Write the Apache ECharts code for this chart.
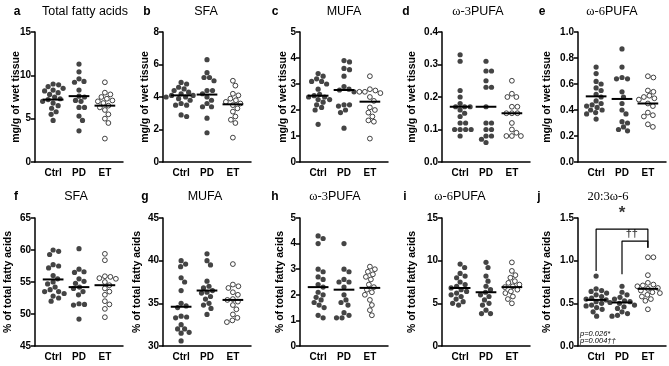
<!DOCTYPE html>
<html>
<head>
<meta charset="utf-8">
<script src="https://cdn.jsdelivr.net/npm/echarts@6/dist/echarts.min.js"></script>
<style>
  html, body { margin: 0; padding: 0; background: #fff; }
  #chart { width: 669px; height: 366px; }
</style>
</head>
<body>
<div id="chart"></div>
<script>
const cats = ['Ctrl', 'PD', 'ET'];

// a  Total fatty acids (mg/g of wet tissue)
const aCtrl = [9.0, 8.9, 8.7, 8.5, 8.3, 8.2, 8.0, 7.8, 7.5, 7.3, 7.2, 7.0, 6.8, 6.5, 6.2, 5.8, 5.5, 4.8];
const aPD = [11.3, 10.4, 9.6, 9.3, 9.2, 8.3, 7.6, 7.5, 7.1, 7.0, 6.3, 6.3, 5.3, 4.8, 3.6];
const aET = [9.2, 8.0, 7.8, 7.5, 7.3, 7.1, 7.0, 6.8, 6.5, 6.3, 6.0, 5.5, 5.0, 4.5, 2.7];
const aLine = [7.2, 7.6, 6.5];
const aTicks = ['0', '5', '10', '15'];

// b  SFA (mg/g)
const bCtrl = [4.9, 4.8, 4.6, 4.5, 4.4, 4.3, 4.2, 4.1, 4.1, 4.0, 4.0, 3.9, 3.8, 3.6, 3.5, 3.5, 2.9, 2.8];
const bPD = [6.3, 5.5, 5.2, 5.2, 5.0, 4.4, 4.4, 4.2, 4.0, 3.8, 3.6, 3.4, 3.4, 2.7, 1.8];
const bET = [5.0, 4.7, 4.2, 4.1, 3.9, 3.8, 3.7, 3.6, 3.5, 3.3, 3.1, 2.8, 2.6, 2.4, 1.5];
const bLine = [4.1, 4.15, 3.55];
const bTicks = ['0', '2', '4', '6', '8'];

// c  MUFA (mg/g)
const cCtrl = [3.4, 3.3, 3.2, 3.1, 3.1, 3.0, 2.8, 2.6, 2.55, 2.5, 2.5, 2.4, 2.4, 2.3, 2.2, 2.1, 2.0, 1.45];
const cPD = [3.9, 3.85, 3.6, 3.55, 3.3, 2.9, 2.8, 2.77, 2.7, 2.2, 2.2, 2.15, 2.0, 1.9, 1.3];
const cET = [3.3, 2.8, 2.75, 2.7, 2.7, 2.65, 2.5, 2.35, 2.1, 2.0, 1.9, 1.75, 1.6, 1.55, 0.9];
const cLine = [2.55, 2.77, 2.32];
const cTicks = ['0', '1', '2', '3', '4', '5'];

// d  w-3 PUFA (mg/g)
const dCtrl = [0.33, 0.31, 0.22, 0.20, 0.18, 0.17, 0.17, 0.17, 0.16, 0.15, 0.14, 0.12, 0.12, 0.10, 0.10, 0.10, 0.10, 0.08];
const dPD = [0.31, 0.28, 0.28, 0.25, 0.23, 0.23, 0.17, 0.12, 0.12, 0.10, 0.10, 0.08, 0.08, 0.07, 0.06];
const dET = [0.25, 0.21, 0.20, 0.20, 0.17, 0.17, 0.15, 0.15, 0.15, 0.12, 0.10, 0.09, 0.08, 0.08, 0.08];
const dLine = [0.17, 0.17, 0.15];
const dTicks = ['0.0', '0.1', '0.2', '0.3', '0.4'];

// e  w-6 PUFA (mg/g)
const eCtrl = [0.73, 0.68, 0.62, 0.60, 0.57, 0.55, 0.52, 0.50, 0.47, 0.45, 0.44, 0.43, 0.42, 0.40, 0.40, 0.38, 0.37, 0.33];
const ePD = [0.87, 0.73, 0.65, 0.64, 0.64, 0.54, 0.50, 0.45, 0.40, 0.37, 0.31, 0.30, 0.27, 0.25, 0.24];
const eET = [0.66, 0.65, 0.55, 0.54, 0.51, 0.50, 0.49, 0.48, 0.45, 0.43, 0.38, 0.36, 0.35, 0.29, 0.27];
const eLine = [0.505, 0.485, 0.45];
const eTicks = ['0.0', '0.2', '0.4', '0.6', '0.8', '1.0'];

// f  SFA (% of total fatty acids)
const fCtrl = [60.0, 59.8, 59.3, 57.7, 57.5, 57.2, 56.0, 55.5, 55.0, 54.7, 54.2, 53.8, 53.5, 53.5, 53.2, 52.8, 52.5, 52.0];
const fPD = [60.2, 57.0, 56.6, 56.5, 55.5, 55.1, 54.8, 54.2, 54.0, 53.5, 53.0, 51.6, 51.5, 51.4, 49.2];
const fET = [59.4, 58.4, 55.9, 55.8, 55.6, 55.5, 55.0, 54.5, 54.0, 53.5, 53.0, 52.0, 51.5, 50.8, 49.5];
const fLine = [55.4, 54.2, 54.5];
const fTicks = ['45', '50', '55', '60', '65'];

// g  MUFA (%)
const gCtrl = [40.0, 39.6, 39.3, 38.0, 37.5, 36.5, 35.0, 34.7, 34.5, 33.5, 33.4, 33.3, 32.5, 32.0, 32.0, 31.6, 31.5, 30.6];
const gPD = [40.8, 40.0, 39.5, 37.6, 37.0, 36.8, 36.5, 36.3, 36.2, 35.8, 35.5, 35.0, 34.8, 34.4, 33.7];
const gET = [39.6, 37.2, 37.0, 36.8, 36.3, 36.0, 35.5, 35.4, 35.2, 34.8, 34.3, 33.7, 33.3, 33.0, 32.8];
const gLine = [34.6, 36.5, 35.4];
const gTicks = ['30', '35', '40', '45'];

// h  w-3 PUFA (%)
const hCtrl = [4.3, 4.2, 4.0, 3.0, 2.9, 2.7, 2.6, 2.4, 2.3, 2.1, 2.0, 1.9, 1.8, 1.7, 1.6, 1.5, 1.2, 1.1];
const hPD = [4.0, 3.0, 2.9, 2.6, 2.5, 2.5, 2.3, 2.0, 1.8, 1.7, 1.6, 1.3, 1.2, 1.1, 1.1];
const hET = [3.1, 3.0, 2.9, 2.8, 2.7, 2.6, 2.4, 2.3, 2.2, 2.1, 2.0, 1.8, 1.6, 1.4, 1.2];
const hLine = [2.3, 2.2, 2.27];
const hTicks = ['0', '1', '2', '3', '4', '5'];

// i  w-6 PUFA (%)
const iCtrl = [9.6, 9.2, 8.5, 8.2, 8.0, 7.5, 7.2, 7.0, 6.8, 6.6, 6.4, 6.2, 6.0, 5.8, 5.5, 5.2, 5.0, 4.8];
const iPD = [9.8, 9.2, 8.2, 7.6, 7.0, 6.6, 6.3, 6.0, 5.8, 5.4, 5.0, 4.8, 4.2, 3.8, 3.8];
const iET = [9.8, 8.8, 8.3, 8.0, 7.6, 7.4, 7.2, 7.0, 6.9, 6.6, 6.4, 6.2, 5.8, 5.5, 5.0];
const iLine = [6.8, 6.3, 6.9];
const iTicks = ['0', '5', '10', '15'];

// j  20:3 w-6 (%)
const jCtrl = [0.82, 0.67, 0.65, 0.64, 0.62, 0.60, 0.58, 0.56, 0.55, 0.54, 0.52, 0.50, 0.48, 0.47, 0.45, 0.43, 0.40, 0.35];
const jPD = [0.70, 0.63, 0.60, 0.57, 0.55, 0.53, 0.52, 0.51, 0.50, 0.48, 0.46, 0.44, 0.40, 0.38, 0.36, 0.35];
const jET = [1.04, 1.04, 0.83, 0.74, 0.72, 0.71, 0.70, 0.68, 0.67, 0.65, 0.63, 0.62, 0.60, 0.58, 0.55, 0.53, 0.43];
const jLine = [0.54, 0.51, 0.67];
const jTicks = ['0.0', '0.5', '1.0', '1.5'];
const jPvalues = ['p=0.026*', 'p=0.004††'];

const unitMg = 'mg/g of wet tissue';
const unitPct = '% of total fatty acids';

const panels = [
  { letter: 'a', title: '{n|Total fatty acids}', unit: unitMg, groups: [aCtrl, aPD, aET], lines: aLine, ticks: aTicks },
  { letter: 'b', title: '{n|SFA}', unit: unitMg, groups: [bCtrl, bPD, bET], lines: bLine, ticks: bTicks },
  { letter: 'c', title: '{n|MUFA}', unit: unitMg, groups: [cCtrl, cPD, cET], lines: cLine, ticks: cTicks },
  { letter: 'd', title: '{s|ω-3}{n|PUFA}', unit: unitMg, groups: [dCtrl, dPD, dET], lines: dLine, ticks: dTicks },
  { letter: 'e', title: '{s|ω-6}{n|PUFA}', unit: unitMg, groups: [eCtrl, ePD, eET], lines: eLine, ticks: eTicks },
  { letter: 'f', title: '{n|SFA}', unit: unitPct, groups: [fCtrl, fPD, fET], lines: fLine, ticks: fTicks },
  { letter: 'g', title: '{n|MUFA}', unit: unitPct, groups: [gCtrl, gPD, gET], lines: gLine, ticks: gTicks },
  { letter: 'h', title: '{s|ω-3}{n|PUFA}', unit: unitPct, groups: [hCtrl, hPD, hET], lines: hLine, ticks: hTicks },
  { letter: 'i', title: '{s|ω-6}{n|PUFA}', unit: unitPct, groups: [iCtrl, iPD, iET], lines: iLine, ticks: iTicks },
  { letter: 'j', title: '{s|20:3ω-6}', unit: unitPct, groups: [jCtrl, jPD, jET], lines: jLine, ticks: jTicks }
];

// layout of the small multiples
const colLeft = [35, 163, 300, 442, 578];
const rowTop = [32, 218];
const rowHeight = [130, 128];
const plotWidth = 88;
const xMin = -0.7, xMax = 2.7;
const nameGaps = [13, 12, 11, 24, 25, 21, 20, 14, 24, 25];
const letterX = [17, 147, 275, 406, 542, 16, 145, 275, 405, 539];
const titleX = [85, 206, 344, 478, 612, 76, 205, 335, 460, 608];
const titleY = [12, 197];

const SANS = 'Liberation Sans';
const SERIF = 'Liberation Serif';
const DOT = 5.2;

// simple beeswarm: spread points sideways so they do not overlap (pixel units)
function swarm(values, pxPerY) {
  const D = 5.4;
  const order = values.map((v, k) => k).sort((p, q) => values[q] - values[p]);
  const placed = [];
  const offs = new Array(values.length).fill(0);
  order.forEach(k => {
    const py = values[k] * pxPerY;
    for (let n = 0; n < 400; n++) {
      const off = (n % 2 ? 1 : -1) * Math.ceil(n / 2) * 0.5;
      const ok = placed.every(p => (off - p.x) ** 2 + (py - p.y) ** 2 >= D * D);
      if (ok) {
        offs[k] = off;
        placed.push({ x: off, y: py });
        break;
      }
    }
  });
  return offs;
}

const axisLine = { color: '#000', width: 1.5 };
const grids = [], xAxes = [], yAxes = [], series = [], graphics = [];

panels.forEach((p, i) => {
  const row = i < 5 ? 0 : 1, col = i % 5;
  const h = rowHeight[row];
  const ticks = p.ticks.map(Number);
  const yMin = ticks[0], yMax = ticks[ticks.length - 1];

  grids.push({ left: colLeft[col], top: rowTop[row], width: plotWidth, height: h });

  xAxes.push({
    gridIndex: i,
    type: 'value',
    min: xMin,
    max: xMax,
    axisLine: { onZero: false, lineStyle: axisLine },
    axisTick: { show: false },
    splitLine: { show: false },
    axisLabel: {
      customValues: [0, 1, 2],
      formatter: v => cats[Math.round(v)],
      color: '#000', fontWeight: 'bold', fontSize: 10, fontFamily: SANS, margin: 6
    }
  });

  yAxes.push({
    gridIndex: i,
    type: 'value',
    min: yMin,
    max: yMax,
    interval: ticks[1] - ticks[0],
    name: p.unit,
    nameLocation: 'middle',
    nameGap: nameGaps[i],
    nameMoveOverlap: false,
    nameTextStyle: { color: '#000', fontWeight: 'bold', fontSize: 10.5, fontFamily: SANS },
    axisLine: { show: true, onZero: false, lineStyle: axisLine },
    axisTick: { show: true, length: 4, lineStyle: axisLine },
    splitLine: { show: false },
    axisLabel: {
      formatter: v => {
        const t = p.ticks.find(s => Math.abs(parseFloat(s) - v) < 1e-9);
        return t === undefined ? '' : t;
      },
      color: '#000', fontWeight: 'bold', fontSize: 10, fontFamily: SANS, margin: 4
    }
  });

  const pxY = h / (yMax - yMin);
  const pxX = plotWidth / (xMax - xMin);
  const filled = [], open = [];
  p.groups.forEach((vals, g) => {
    const offs = swarm(vals, pxY);
    vals.forEach((v, k) => (g === 2 ? open : filled).push([g + offs[k] / pxX, v]));
  });

  series.push({
    type: 'scatter', xAxisIndex: i, yAxisIndex: i, data: filled,
    symbolSize: DOT, itemStyle: { color: '#151515' }, silent: true
  });
  series.push({
    type: 'scatter', xAxisIndex: i, yAxisIndex: i, data: open,
    symbolSize: DOT - 0.4, itemStyle: { color: '#fff', borderColor: '#151515', borderWidth: 1 }, silent: true
  });
  p.lines.forEach((m, g) => {
    series.push({
      type: 'line', xAxisIndex: i, yAxisIndex: i, z: 3,
      data: [[g - 0.4, m], [g + 0.4, m]],
      symbol: 'none', lineStyle: { color: '#000', width: 2 }, silent: true
    });
  });

  graphics.push({
    type: 'text', x: letterX[i], y: titleY[row],
    style: { text: p.letter, font: 'bold 12px ' + SANS, fill: '#000',
      textAlign: 'center', textVerticalAlign: 'middle', align: 'center', verticalAlign: 'middle' }
  });
  graphics.push({
    type: 'text', x: titleX[i], y: titleY[row],
    style: {
      text: p.title, fill: '#000',
      textAlign: 'center', textVerticalAlign: 'middle', align: 'center', verticalAlign: 'middle',
      rich: {
        s: { font: '12.5px ' + SERIF, fill: '#000' },
        n: { font: '12.5px ' + SANS, fill: '#000' }
      }
    }
  });
});

// significance brackets on panel j
const bracketStyle = { color: '#000', width: 1.2 };
series.push({
  type: 'line', xAxisIndex: 9, yAxisIndex: 9, clip: false, symbol: 'none', silent: true,
  data: [[0, 0.88], [0, 1.37], [2, 1.37], [2, 1.15]], lineStyle: bracketStyle
});
series.push({
  type: 'line', xAxisIndex: 9, yAxisIndex: 9, clip: false, symbol: 'none', silent: true,
  data: [[1, 0.84], [1, 1.23], [2, 1.23], [2, 1.15]], lineStyle: bracketStyle
});
series.push({
  type: 'scatter', xAxisIndex: 9, yAxisIndex: 9, clip: false, symbolSize: 0, silent: true,
  data: [
    { value: [1, 1.56], label: { formatter: '*', fontSize: 17 } },
    { value: [1.38, 1.31], label: { formatter: '††', fontSize: 11 } }
  ],
  label: { show: true, position: 'inside', color: '#000', fontWeight: 'bold', fontFamily: SANS }
});

jPvalues.forEach((t, k) => {
  graphics.push({
    type: 'text', x: 580, y: 334 + k * 7,
    style: { text: t, font: 'italic 7.5px ' + SANS, fill: '#000',
      textAlign: 'left', textVerticalAlign: 'middle', align: 'left', verticalAlign: 'middle' }
  });
});

const chart = echarts.init(document.getElementById('chart'));
chart.setOption({
  animation: false,
  backgroundColor: '#fff',
  grid: grids,
  xAxis: xAxes,
  yAxis: yAxes,
  series: series,
  graphic: graphics
});
</script>
</body>
</html>
